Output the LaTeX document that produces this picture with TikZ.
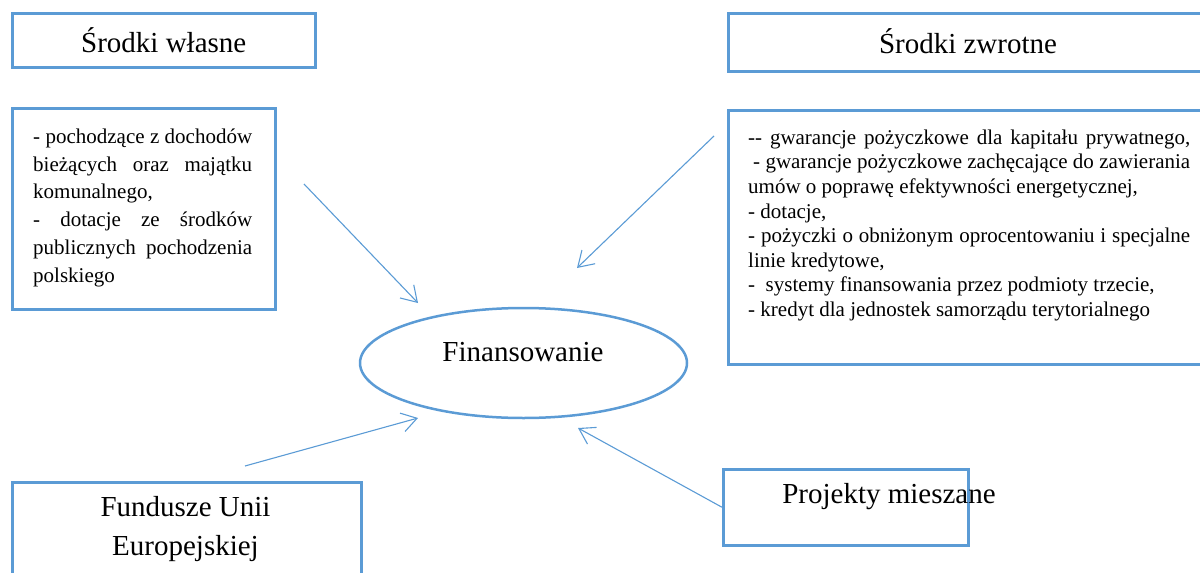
\documentclass[tikz,border=0pt]{standalone}
\usepackage{fontspec}
\setmainfont{Liberation Serif}
\usetikzlibrary{arrows.meta,shapes.geometric}
\definecolor{bl}{HTML}{5B9BD5}
\begin{document}
\begin{tikzpicture}[x=1pt,y=-1pt,
  box/.style={draw=bl, line width=2.5pt, inner sep=0pt, anchor=north west},
  ttl/.style={font=\fontsize{29}{38.5}\selectfont, align=center, inner sep=0pt},
  body/.style={font=\fontsize{21}{27.8}\selectfont, align=left, inner sep=0pt, anchor=north west},
  bodyr/.style={font=\fontsize{21}{24.6}\selectfont, align=left, inner sep=0pt, anchor=north west},
  arr/.style={draw=bl, line width=1.1pt, -{Straight Barb[length=15pt,width=19pt,line width=1.1pt]}}]
\useasboundingbox (0,0) rectangle (1200,573);

% boxes
\node[box, minimum width=303pt, minimum height=54pt] (sw) at (11,12) {};
\node[ttl] (swt) at (sw.center) {Środki własne};

\node[box, minimum width=263pt, minimum height=201pt] (swl) at (11,107) {};
\node[body] (swlt) at (33,128.5) {%
\makebox[219pt][s]{- pochodzące z dochodów}\\
\makebox[219pt][s]{bieżących oraz majątku}\\
komunalnego,\\
\makebox[219pt][s]{- dotacje ze środków}\\
\makebox[219pt][s]{publicznych pochodzenia}\\
polskiego};

\node[box, minimum width=482pt, minimum height=58pt] (sz) at (727,12) {};
\node[ttl] (szt) at (968,41) {Środki zwrotne};

\node[box, minimum width=482pt, minimum height=254pt] (szl) at (727,109) {};
\node[bodyr] (szlt) at (748,129.5) {%
\makebox[442pt][s]{-{}- gwarancje pożyczkowe dla kapitału prywatnego,}\\
\hspace*{5pt}\makebox[437pt][s]{- gwarancje pożyczkowe zachęcające do zawierania}\\
umów o poprawę efektywności energetycznej,\\
- dotacje,\\
\makebox[442pt][s]{- pożyczki o obniżonym oprocentowaniu i specjalne}\\
linie kredytowe,\\
-\ \ systemy finansowania przez podmioty trzecie,\\
- kredyt dla jednostek samorządu terytorialnego};

\node[draw=bl, line width=2.5pt, ellipse, minimum width=327pt, minimum height=110pt, inner sep=0pt] (fin) at (523.5,363) {};
\node[ttl] (fint) at (523,352) {Finansowanie};

\node[box, minimum width=349pt, minimum height=150pt] (fu) at (11,481) {};
\node[ttl] (fut) at (185.5,529) {Fundusze Unii\\Europejskiej};

\node[box, minimum width=245pt, minimum height=76pt] (pm) at (722,468) {};
\node[ttl] (pmt) at (889,497) {Projekty mieszane};

% connector end points
\coordinate (a1s) at (304,184);
\coordinate (a1e) at (418,303);
\coordinate (a2s) at (714,136);
\coordinate (a2e) at (577,268);
\coordinate (a3s) at (245,466);
\coordinate (a3e) at (418,418);
\coordinate (a4e) at (578,428);

\draw[arr] (a1s) -- (a1e);
\draw[arr] (a2s) -- (a2e);
\draw[arr] (a3s) -- (a3e);
\draw[arr] (pm.west) -- (a4e);
\end{tikzpicture}
\end{document}
